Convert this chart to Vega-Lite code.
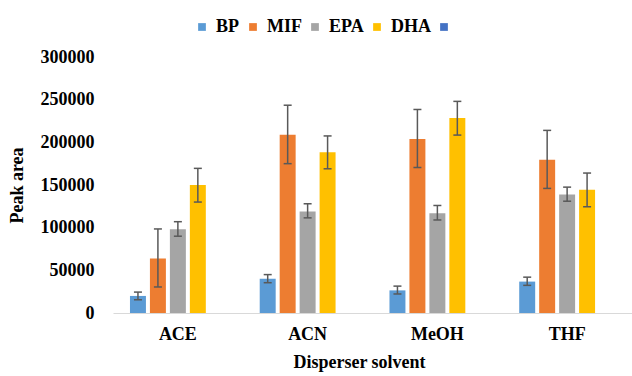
{
  "$schema": "https://vega.github.io/schema/vega-lite/v6.json",
  "autosize": {"type": "none"},
  "padding": {"left": 113, "top": 57, "right": 0, "bottom": 63},
  "width": 519,
  "height": 256,
  "background": "white",
  "config": {"view": {"stroke": null}, "font": "Times New Roman, Liberation Serif, serif"},
  "data": {"values": [
    {"solvent": "ACE", "compound": "BP", "value": 20000, "lo": 15500, "hi": 24500},
    {"solvent": "ACE", "compound": "MIF", "value": 64000, "lo": 30500, "hi": 98500},
    {"solvent": "ACE", "compound": "EPA", "value": 98000, "lo": 90000, "hi": 107000},
    {"solvent": "ACE", "compound": "DHA", "value": 150000, "lo": 130000, "hi": 169500},
    {"solvent": "ACN", "compound": "BP", "value": 40000, "lo": 35500, "hi": 45000},
    {"solvent": "ACN", "compound": "MIF", "value": 209000, "lo": 175000, "hi": 243500},
    {"solvent": "ACN", "compound": "EPA", "value": 119000, "lo": 111500, "hi": 128000},
    {"solvent": "ACN", "compound": "DHA", "value": 188500, "lo": 169000, "hi": 207500},
    {"solvent": "MeOH", "compound": "BP", "value": 26500, "lo": 22300, "hi": 31500},
    {"solvent": "MeOH", "compound": "MIF", "value": 204000, "lo": 170500, "hi": 238500},
    {"solvent": "MeOH", "compound": "EPA", "value": 117000, "lo": 109000, "hi": 126000},
    {"solvent": "MeOH", "compound": "DHA", "value": 228500, "lo": 208500, "hi": 248000},
    {"solvent": "THF", "compound": "BP", "value": 36800, "lo": 32400, "hi": 42000},
    {"solvent": "THF", "compound": "MIF", "value": 179500, "lo": 146000, "hi": 214000},
    {"solvent": "THF", "compound": "EPA", "value": 139000, "lo": 131000, "hi": 147500},
    {"solvent": "THF", "compound": "DHA", "value": 144500, "lo": 124500, "hi": 164000}
  ]},
  "encoding": {
    "x": {
      "field": "solvent", "type": "nominal", "sort": ["ACE", "ACN", "MeOH", "THF"],
      "scale": {"paddingInner": 0, "paddingOuter": 0},
      "title": "Disperser solvent",
      "axis": {
        "labelAngle": 0, "ticks": false, "domainColor": "#d9d9d9", "domainWidth": 1,
        "labelFont": "Times New Roman, Liberation Serif, serif", "labelFontSize": 18, "labelFontWeight": "bold", "labelColor": "#000",
        "labelPadding": 12,
        "titleFont": "Times New Roman, Liberation Serif, serif", "titleFontSize": 18, "titleFontWeight": "bold", "titleColor": "#000",
        "titlePadding": 10, "titleX": 246
      }
    },
    "xOffset": {
      "field": "compound", "type": "nominal",
      "scale": {"domain": ["BP", "MIF", "EPA", "DHA", " "], "paddingInner": 0.2, "paddingOuter": 0.85}
    }
  },
  "layer": [
    {
      "mark": {"type": "bar"},
      "encoding": {
        "y": {
          "field": "value", "type": "quantitative", "title": "Peak area",
          "scale": {"domain": [0, 300000], "nice": false},
          "axis": {
            "values": [0, 50000, 100000, 150000, 200000, 250000, 300000], "format": "d",
            "grid": false, "domain": false, "ticks": false, "tickSize": 0,
            "labelFont": "Times New Roman, Liberation Serif, serif", "labelFontSize": 18, "labelFontWeight": "bold", "labelColor": "#000",
            "labelPadding": 19,
            "titleFont": "Times New Roman, Liberation Serif, serif", "titleFontSize": 18, "titleFontWeight": "bold", "titleColor": "#000",
            "titlePadding": 14
          }
        },
        "color": {
          "field": "compound", "type": "nominal",
          "scale": {"domain": ["BP", "MIF", "EPA", "DHA", " "], "range": ["#5B9BD5", "#ED7D31", "#A5A5A5", "#FFC000", "#4472C4"]},
          "legend": {
            "orient": "none", "legendX": 80, "legendY": -39, "direction": "horizontal", "title": null,
            "gridAlign": "none",
            "symbolType": "square", "symbolSize": 60, "symbolStrokeWidth": 0,
            "labelFont": "Times New Roman, Liberation Serif, serif", "labelFontSize": 18, "labelFontWeight": "bold", "labelColor": "#000",
            "labelOffset": 5, "columnPadding": 4
          }
        }
      }
    },
    {
      "mark": {"type": "rule", "color": "#595959", "strokeWidth": 1.5},
      "encoding": {
        "y": {"field": "lo", "type": "quantitative", "title": "Peak area", "scale": {"domain": [0, 300000], "nice": false}},
        "y2": {"field": "hi"}
      }
    },
    {
      "mark": {"type": "tick", "color": "#595959", "thickness": 1.5, "size": 8, "opacity": 1},
      "encoding": {
        "y": {"field": "lo", "type": "quantitative", "title": "Peak area", "scale": {"domain": [0, 300000], "nice": false}}
      }
    },
    {
      "mark": {"type": "tick", "color": "#595959", "thickness": 1.5, "size": 8, "opacity": 1},
      "encoding": {
        "y": {"field": "hi", "type": "quantitative", "title": "Peak area", "scale": {"domain": [0, 300000], "nice": false}}
      }
    }
  ]
}
